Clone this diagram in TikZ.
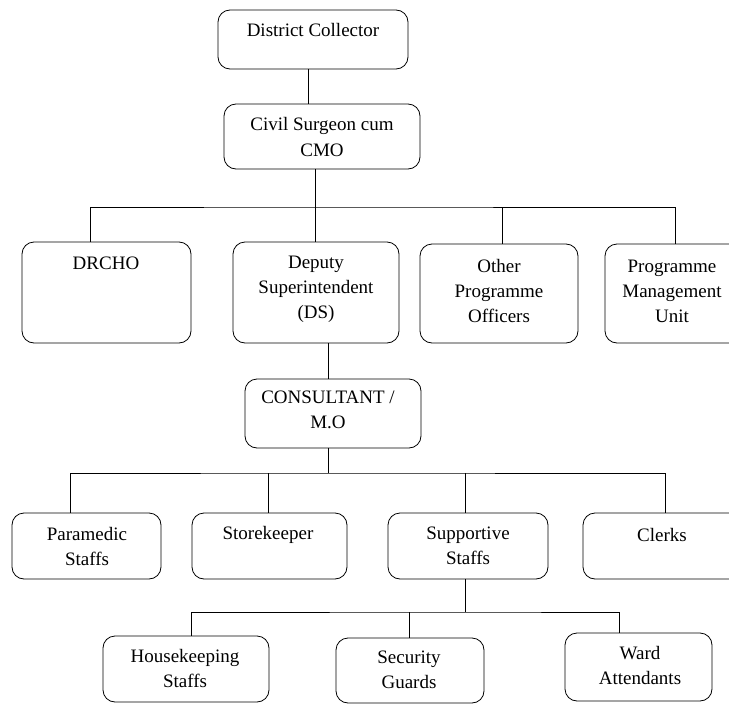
\documentclass[tikz,border=0pt]{standalone}
\usepackage{fontspec}
\setmainfont{Liberation Serif}
\begin{document}
\begin{tikzpicture}[x=1pt,y=-1pt,
  box/.style={draw, line width=0.8pt, rounded corners=12pt, inner sep=0pt},
  txt/.style={align=center, inner sep=0pt, font=\fontsize{19}{25}\selectfont},
  conn/.style={line width=0.8pt}]
\useasboundingbox (0,0) rectangle (729,704);
% boxes
\node[box, minimum width=190, minimum height=59] (dc) at (313,39.5) {};
\node[box, minimum width=196, minimum height=65] (cs) at (322,136.5) {};
\node[box, minimum width=169, minimum height=101] (drcho) at (106.5,292.5) {};
\node[box, minimum width=166, minimum height=101] (ds) at (316,292.5) {};
\node[box, minimum width=158, minimum height=99] (opo) at (499,293.5) {};
\node[box, minimum width=140, minimum height=99] (pmu) at (675,293.5) {};
\node[box, minimum width=176, minimum height=69] (cons) at (333,413.5) {};
\node[box, minimum width=149, minimum height=66] (para) at (86.5,546) {};
\node[box, minimum width=155, minimum height=66] (store) at (269.5,546) {};
\node[box, minimum width=160, minimum height=66] (supp) at (468,546) {};
\node[box, minimum width=162, minimum height=66] (clerks) at (664,546) {};
\node[box, minimum width=166, minimum height=66] (house) at (186,669) {};
\node[box, minimum width=148, minimum height=65] (sec) at (410,670.5) {};
\node[box, minimum width=147, minimum height=68] (ward) at (638.5,667) {};
% texts
\node[txt] (tdc) at (313,30) {District Collector};
\node[txt] (tcs) at (322,137) {Civil Surgeon cum\\CMO};
\node[txt] (tdrcho) at (106,263) {DRCHO};
\node[txt] (tds) at (316,289) {Deputy\\Superintendent\\(DS)};
\node[txt] (topo) at (499,291) {Other\\Programme\\Officers};
\node[txt] (tpmu) at (672,291) {Programme\\Management\\Unit};
\node[txt] (tcons) at (328,410) {CONSULTANT /\\M.O};
\node[txt] (tpara) at (87,546) {Paramedic\\Staffs};
\node[txt] (tstore) at (268,535) {Storekeeper};
\node[txt] (tsupp) at (468,546) {Supportive\\Staffs};
\node[txt] (tclerks) at (662,535) {Clerks};
\node[txt] (thouse) at (185,668) {Housekeeping\\Staffs};
\node[txt] (tsec) at (409,670) {Security\\Guards};
\node[txt] (tward) at (640,665) {Ward\\Attendants};
% bus coordinates
\coordinate (b1) at (315,207);
\coordinate (b2) at (328,473);
\coordinate (b3) at (465,612);
% connectors
\draw[conn] (dc.south -| 308,0) -- (cs.north -| 308,0);
\draw[conn] (cs.south -| b1) -- (b1);
\draw[conn] (drcho.north -| 90,0) |- (b1) -| (pmu.north -| 675,0);
\draw[conn] (b1) -- (ds.north -| b1);
\draw[conn] (b1 -| 502,0) -- (opo.north -| 502,0);
\draw[conn] (ds.south -| b2) -- (cons.north -| b2);
\draw[conn] (cons.south -| b2) -- (b2);
\draw[conn] (para.north -| 70,0) |- (b2) -| (clerks.north -| 665,0);
\draw[conn] (b2 -| 268,0) -- (store.north -| 268,0);
\draw[conn] (b2 -| 465,0) -- (supp.north -| 465,0);
\draw[conn] (supp.south -| b3) -- (b3);
\draw[conn] (house.north -| 191,0) |- (b3) -| (ward.north -| 619,0);
\draw[conn] (b3 -| 409,0) -- (sec.north -| 409,0);
\end{tikzpicture}
\end{document}
